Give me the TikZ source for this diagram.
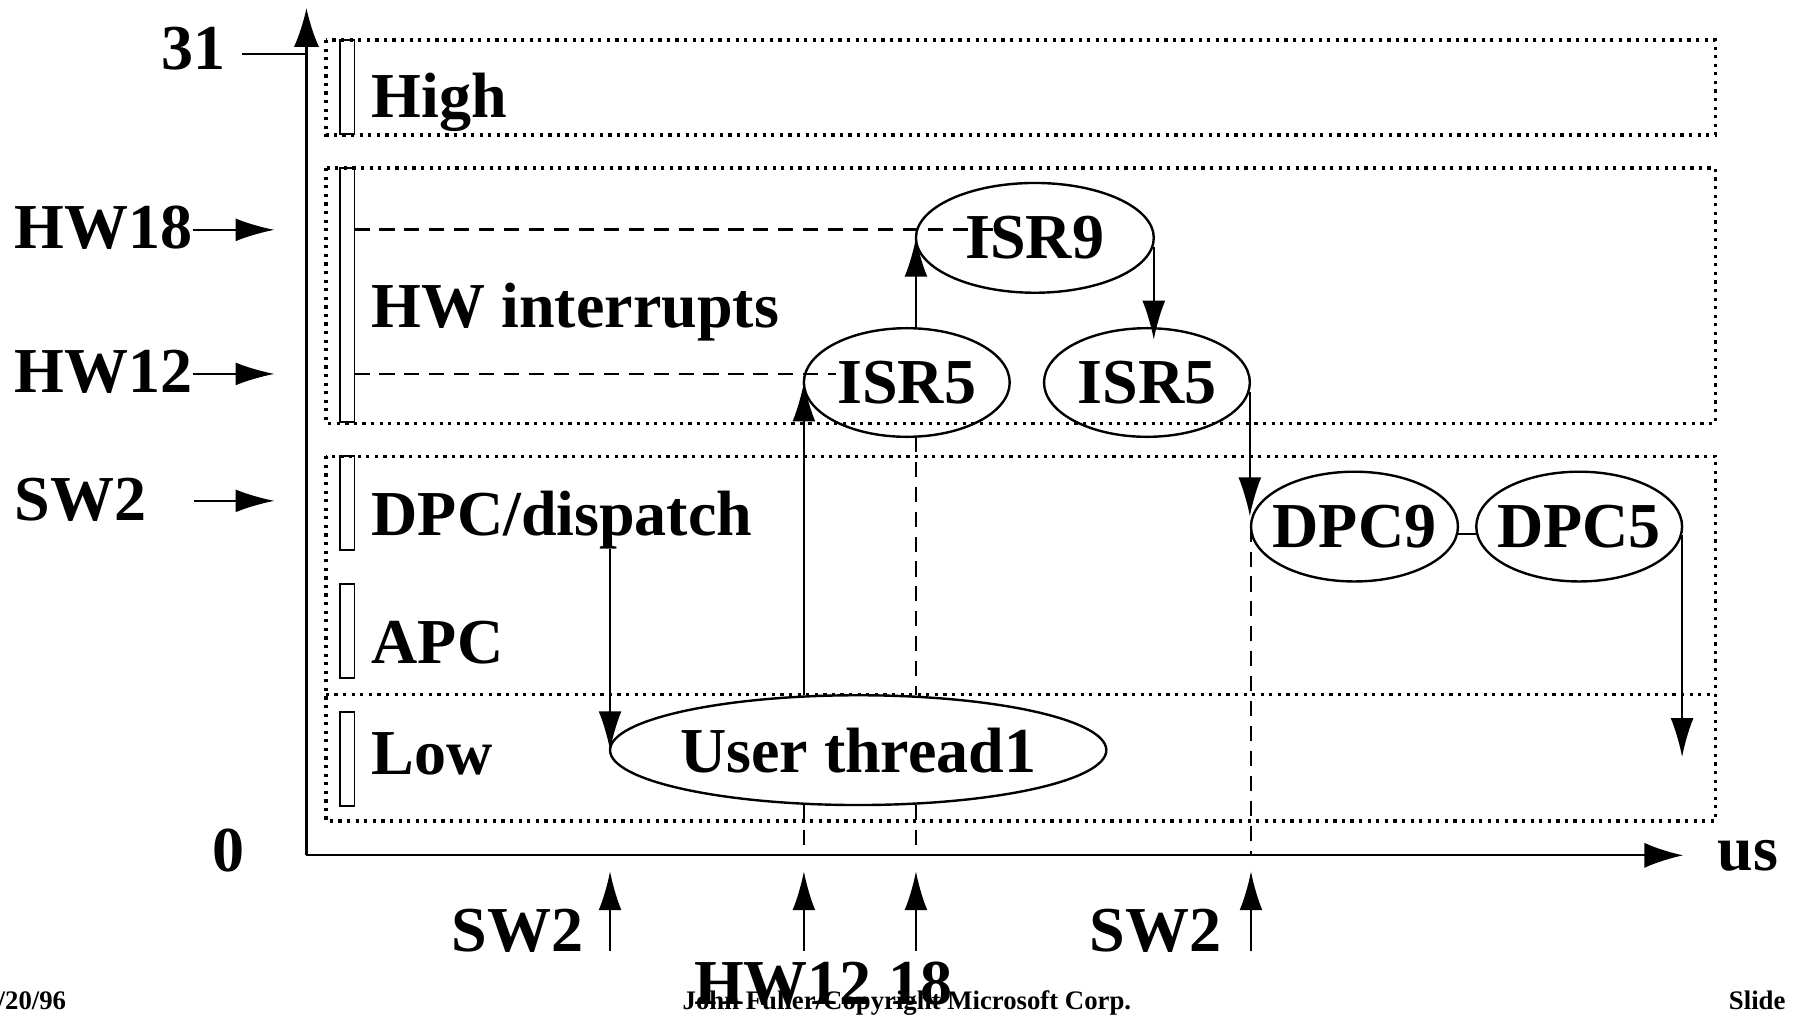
\documentclass[tikz,border=0pt]{standalone}
\usepackage{fontspec}
\setmainfont{Liberation Serif}
\usetikzlibrary{arrows.meta,shapes.geometric,calc}

\newcommand\bigtxt{\fontsize{28pt}{32pt}\selectfont\bfseries}
\newcommand\foottxt{\fontsize{11.7pt}{13pt}\selectfont\bfseries}
% text whose width does not enlarge the surrounding ellipse
\newcommand\ctrtext[1]{\makebox[0pt]{#1}}

\begin{document}
\begin{tikzpicture}[x=0.5pt,y=-0.5pt,
  txt/.style={inner sep=0pt, outer sep=0pt, font=\bigtxt},
  foot/.style={inner sep=0pt, outer sep=0pt, font=\foottxt, anchor=base west},
  band/.style={line width=1.4pt, dash pattern=on 1.4pt off 2.35pt},
  levelbar/.style={draw, line width=0.8pt, minimum width=6.5pt, inner sep=0pt, outer sep=0pt, anchor=north west},
  axisline/.style={line width=1pt, -{Latex[length=17pt,width=11pt]}},
  arr/.style={line width=0.8pt, -{Latex[length=17pt,width=10pt]}},
  guide/.style={line width=1.2pt, dash pattern=on 6.6pt off 4.3pt},
  stage/.style={ellipse, draw, line width=1.05pt, inner sep=0pt, outer sep=0pt, font=\bigtxt}]

\useasboundingbox (0,0) rectangle (1568,889);

% IRQL bands
\draw[band] (285,35) rectangle (1500,118);
\draw[band] (285,147) rectangle (1500,370);
\draw[band] (285,399) rectangle (1500,718);
\draw[band] (285,607) -- (1500,607);

% level bars
\node[levelbar, minimum height=41pt]  (barHigh) at (297,35)  {};
\node[levelbar, minimum height=111pt] (barHW)   at (297,147) {};
\node[levelbar, minimum height=41pt]  (barDPC)  at (297,399) {};
\node[levelbar, minimum height=41pt]  (barAPC)  at (297,511) {};
\node[levelbar, minimum height=41pt]  (barLow)  at (297,623) {};

% axes
\coordinate (origin) at (268,748);
\coordinate (ytop) at (268,7);
\coordinate (xend) at (1472,748);
\draw[axisline] (origin) -- (ytop);
\draw[axisline] (origin) -- (xend);

% left scale
\node[txt, anchor=base east] (t31) at (197,61) {31};
\coordinate (c31) at (212,47);
\draw[line width=0.9pt] (c31) -- (c31 -| origin);

\node[txt, anchor=base west] (tHW18) at (13,217) {HW18};
\coordinate (lv18) at (240,201);
\draw[arr] (tHW18.east |- lv18) -- (lv18);

\node[txt, anchor=base west] (tHW12) at (13,343) {HW12};
\coordinate (lv12) at (240,327);
\draw[arr] (tHW12.east |- lv12) -- (lv12);

\node[txt, anchor=base west] (tSW2) at (13,455) {SW2};
\coordinate (swstart) at (170,438);
\coordinate (lvsw) at (240,438);
\draw[arr] (swstart) -- (lvsw);

\node[txt, anchor=base west] (t0) at (186,762) {0};
\node[txt, anchor=base west] (tus) at (1502,761) {us};

% level names
\node[txt, anchor=base west] (lHigh) at (325,103) {High};
\node[txt, anchor=base west] (lHW)   at (325,286) {HW interrupts};
\node[txt, anchor=base west] (lDPC)  at (325,468) {DPC/dispatch};
\node[txt, anchor=base west] (lAPC)  at (325,580) {APC};
\node[txt, anchor=base west] (lLow)  at (325,677) {Low};

% routines
\node[stage, minimum width=104pt, minimum height=48pt]   (isr9)  at (905,208)     {\ctrtext{ISR9}};
\node[stage, minimum width=90pt,  minimum height=47.5pt] (isr5a) at (793,334.5)   {\ctrtext{ISR5}};
\node[stage, minimum width=90pt,  minimum height=47.5pt] (isr5b) at (1003,334.5)  {\ctrtext{ISR5}};
\node[stage, minimum width=90.5pt,minimum height=48pt]   (dpc9)  at (1184.5,460.5){\ctrtext{DPC9}};
\node[stage, minimum width=90pt,  minimum height=48pt]   (dpc5)  at (1381,460.5)  {\ctrtext{DPC5}};
\node[stage, minimum width=217pt, minimum height=48pt]   (user)  at (750.5,656)   {\ctrtext{User thread1}};

% level guides
\coordinate (d18) at (872,201);
\coordinate (d12) at (731,327);
\draw[guide] (barHW.east |- lv18) -- (d18);
\draw[guide] (barHW.east |- lv12) -- (d12);
\draw[guide] (user.south -| isr5a.west) -- (isr5a.west |- origin);
\draw[guide] (isr5a.south -| isr9.west) -- (user.north -| isr9.west);
\draw[guide] (user.south -| isr9.west) -- (isr9.west |- origin);
\draw[guide] (dpc9.west) -- (dpc9.west |- origin);

% control flow
\draw[arr] (lDPC.south -| user.west) -- (user.west);
\draw[arr] (user.north -| isr5a.west) -- (isr5a.west);
\draw[arr] (isr5a.north -| isr9.west) -- (isr9.west);
\draw[arr] ($(isr9.east)+(0,8)$) -- ($(isr9.east |- isr5b.north)+(0,10)$);
\draw[arr] ($(isr5b.east)+(0,8)$) -- ($(isr5b.east |- dpc9.west)+(0,-9)$);
\draw[line width=0.8pt] ($(dpc9.east)+(0,6.5)$) -- ($(dpc5.west)+(0,6.5)$);
\coordinate (lowtip) at (1471,662);
\draw[arr] ($(dpc5.east)+(0,7.5)$) -- (dpc5.east |- lowtip);

% interrupt events on the time axis
\coordinate (bot) at (0,832);
\coordinate (tip) at (0,762);
\draw[arr] (user.west |- bot) -- (user.west |- tip);
\draw[arr] (isr5a.west |- bot) -- (isr5a.west |- tip);
\draw[arr] (isr9.west |- bot) -- (isr9.west |- tip);
\draw[arr] (dpc9.west |- bot) -- (dpc9.west |- tip);

\node[txt, anchor=base east] (bSW2a) at (510,832) {SW2};
\node[txt, anchor=base east] (bSW2b) at (1068,832) {SW2};
\node[txt, anchor=base west] (bHW) at (607,878) {HW12 18};

% footer
\node[foot] (fdate)  at (-2,883)  {/20/96};
\node[foot] (fcopy)  at (597,883) {John Fuller/Copyright Microsoft Corp.};
\node[foot] (fslide) at (1512,883) {Slide};
\end{tikzpicture}
\end{document}
